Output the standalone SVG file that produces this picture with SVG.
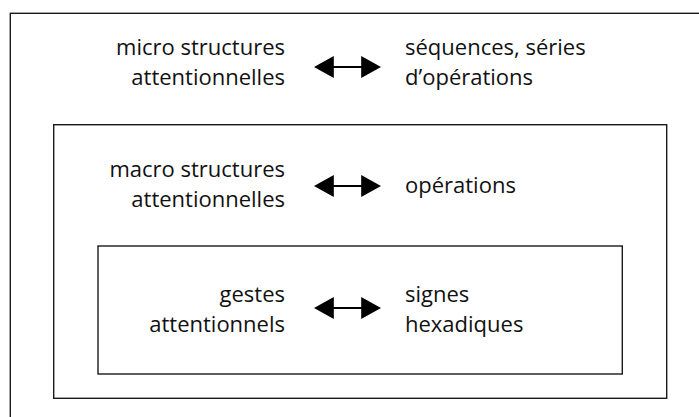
<svg xmlns="http://www.w3.org/2000/svg" width="699" height="417" viewBox="0 0 699 417">
<style>
.box{fill:none;stroke:#1a1a1a;stroke-width:1.4}
.t{font-family:"Open Sans","Liberation Sans",sans-serif;font-size:22px;fill:#111}
.l{text-anchor:end}
.arr{stroke:#000;stroke-width:2.2;marker-start:url(#ah);marker-end:url(#ah)}
</style>
<defs>
<marker id="ah" markerUnits="userSpaceOnUse" markerWidth="20" markerHeight="22" viewBox="0 0 18 20" refX="8" refY="10" orient="auto-start-reverse">
<path d="M0,0 L18,10 L0,20 Z" fill="#000"/>
</marker>
</defs>
<rect x="0" y="0" width="699" height="417" fill="#fff"/>
<g id="outer">
<rect class="box" x="10.3" y="13.3" width="700" height="420"/>
<text class="t l" x="285" y="55">micro structures</text>
<text class="t l" x="285" y="85">attentionnelles</text>
<text class="t" x="405" y="55">séquences, séries</text>
<text class="t" x="405" y="85">d’opérations</text>
</g>
<g id="middle">
<rect class="box" x="53.7" y="124.7" width="613" height="273.6"/>
<text class="t l" x="285" y="177">macro structures</text>
<text class="t l" x="285" y="207">attentionnelles</text>
<text class="t" x="405" y="193">opérations</text>
</g>
<g id="inner">
<rect class="box" x="98" y="246" width="524.3" height="128"/>
<text class="t l" x="285" y="302">gestes</text>
<text class="t l" x="285" y="332">attentionnels</text>
<text class="t" x="405" y="302">signes</text>
<text class="t" x="405" y="332">hexadiques</text>
</g>
<g id="connectors">
<line class="arr" x1="325" y1="67" x2="370" y2="67"/>
<line class="arr" x1="325" y1="186" x2="370" y2="186"/>
<line class="arr" x1="325" y1="308" x2="370" y2="308"/>
</g>
</svg>
